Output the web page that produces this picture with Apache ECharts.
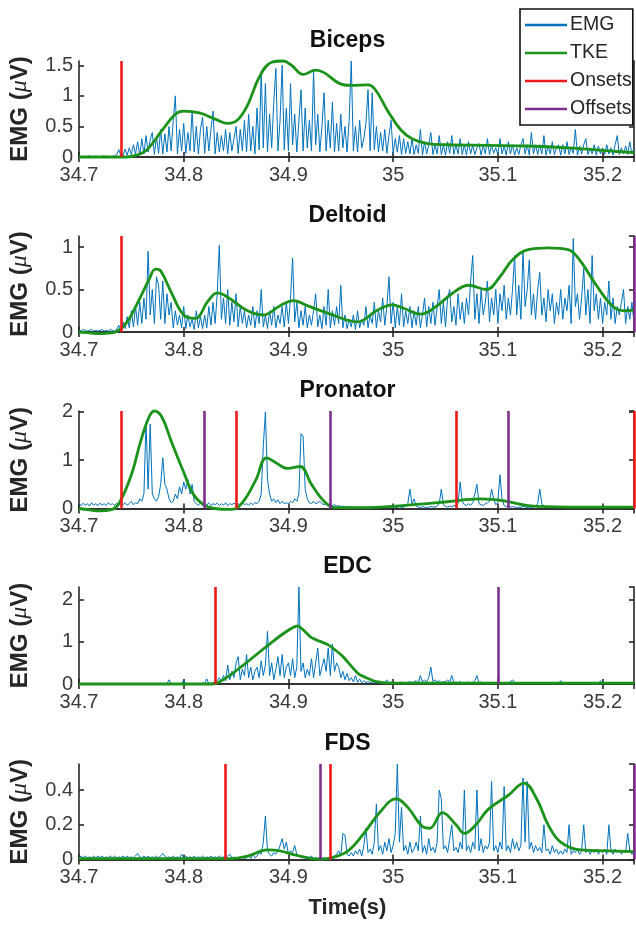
<!DOCTYPE html>
<html>
<head>
<meta charset="utf-8">
<script src="https://cdn.jsdelivr.net/npm/echarts@6/dist/echarts.min.js"></script>
<style>html,body{margin:0;padding:0;background:#fff}#c{width:636px;height:929px}</style>
</head>
<body>
<div id="c"></div>
<script>
// ---- sampling of the EMG traces ----
const T0 = 34.7, DT = 0.002;
const X_MIN = 34.7, X_MAX = 35.23;
const xTickStep = 0.1;

const muscles = ['Biceps', 'Deltoid', 'Pronator', 'EDC', 'FDS'];
const yMax = [1.57, 1.13, 2.02, 2.3, 0.55];
const yStep = [0.5, 0.5, 1, 1, 0.2];

// ---- EMG (rectified) samples, one every DT seconds from T0 ----
const emgBiceps = [
0.01,0,0.01,0,0.01,0.02,0,0.01,0,0.01,
0,0.01,0.02,0,0.01,0,0.01,0.02,0.04,0.12,
0.02,0.01,0.13,0.03,0.15,0.04,0.2,0.05,0.25,0.03,
0.3,0.05,0.35,0.08,0.28,0.4,0.04,0.33,0.06,0.45,
0.05,0.38,0.08,0.5,0.1,0.6,1.0,0.05,0.45,0.1,
0.55,0.06,0.4,0.1,0.75,0.08,0.5,0.05,0.45,0.65,
0.06,0.5,0.1,0.45,0.75,0.05,0.4,0.08,0.35,0.1,
0.45,0.05,0.4,0.1,0.3,0.5,0.06,0.45,0.1,0.6,
0.08,0.7,0.1,0.5,0.05,0.8,0.12,1.4,0.15,1.2,
0.08,0.7,0.15,0.9,1.45,0.1,0.6,1.5,0.12,0.8,
0.1,1.2,0.2,0.7,0.08,0.6,1.1,0.1,0.8,0.15,
0.6,0.1,1.4,0.2,0.7,0.08,0.5,1.05,0.1,0.6,
0.15,0.9,0.08,0.55,0.1,0.7,0.15,0.5,0.08,0.6,
1.57,0.1,0.5,0.08,0.6,0.15,0.3,0.55,1.1,0.1,
1.05,0.12,0.5,0.08,0.4,0.1,0.45,0.06,0.35,0.6,
0.05,0.3,0.08,0.35,0.04,0.3,0.06,0.25,0.05,0.3,
0.04,0.2,0.06,0.45,0.03,0.25,0.05,0.2,0.4,0.04,
0.2,0.05,0.35,0.04,0.2,0.03,0.25,0.06,0.35,0.04,
0.2,0.05,0.3,0.04,0.2,0.03,0.25,0.05,0.2,0.04,
0.15,0.22,0.03,0.2,0.05,0.3,0.04,0.2,0.06,0.15,
0.04,0.3,0.05,0.18,0.03,0.25,0.05,0.2,0.03,0.15,
0.04,0.2,0.3,0.05,0.2,0.03,0.4,0.05,0.2,0.04,
0.2,0.05,0.35,0.03,0.18,0.05,0.25,0.04,0.15,0.2,
0.03,0.2,0.05,0.25,0.04,0.15,0.06,0.45,0.03,0.18,
0.05,0.2,0.3,0.04,0.15,0.05,0.2,0.03,0.18,0.05,
0.15,0.04,0.2,0.05,0.15,0.03,0.2,0.35,0.04,0.15,
0.05,0.18,0.04,0.25,0.05,0.15];

const emgDeltoid = [
0.02,0.01,0.03,0.02,0.01,0.02,0.03,0.01,0.02,0.01,
0.02,0.03,0.01,0.02,0.01,0.03,0.02,0.01,0.03,0.08,
0.02,0.12,0.04,0.18,0.05,0.25,0.06,0.3,0.08,0.35,
0.1,0.4,0.15,0.95,0.2,0.5,0.1,0.65,0.55,0.15,
0.6,0.1,0.45,0.2,0.35,0.05,0.25,0.08,0.2,0.05,
0.3,0.04,0.2,0.06,0.15,0.03,0.25,0.05,0.18,0.04,
0.2,0.05,0.3,0.08,0.35,0.1,0.45,1.02,0.15,0.4,
0.1,0.5,0.08,0.35,0.12,0.45,0.06,0.3,0.1,0.25,
0.05,0.2,0.08,0.3,0.05,0.25,0.1,0.5,0.06,0.2,
0.04,0.25,0.08,0.3,0.05,0.2,0.1,0.3,0.06,0.35,
0.1,0.4,0.87,0.12,0.35,0.05,0.25,0.08,0.3,0.05,
0.2,0.08,0.25,0.45,0.06,0.2,0.04,0.3,0.08,0.5,
0.05,0.25,0.08,0.3,0.1,0.55,0.05,0.2,0.04,0.15,
0.06,0.2,0.03,0.25,0.05,0.15,0.08,0.3,0.05,0.2,
0.1,0.35,0.05,0.25,0.12,0.4,0.08,0.3,0.65,0.1,
0.35,0.05,0.3,0.08,0.45,0.06,0.25,0.1,0.3,0.05,
0.25,0.08,0.3,0.05,0.2,0.4,0.06,0.3,0.1,0.35,
0.08,0.3,0.5,0.1,0.35,0.06,0.4,0.5,0.12,0.3,
0.08,0.45,0.15,0.35,0.1,0.4,0.2,0.6,0.9,0.15,
0.45,0.1,0.5,0.2,0.35,0.6,0.12,0.4,0.2,0.5,
0.1,0.45,0.25,0.55,0.15,0.4,0.2,0.5,0.9,0.2,
0.55,0.15,0.95,0.3,0.5,0.85,0.2,0.45,0.15,0.5,
0.7,0.2,0.4,0.12,0.5,0.25,0.45,0.1,0.35,0.2,
0.5,0.15,0.4,0.25,0.55,0.1,1.1,0.3,0.45,0.15,
0.4,0.75,0.2,0.5,0.1,0.9,0.25,0.45,0.15,0.4,
0.1,0.35,0.2,0.6,0.15,0.4,0.1,0.3,0.2,0.35,
0.5,0.1,0.3,0.15,0.35,0.1];

const emgPronator = [
0.1,0.06,0.11,0.07,0.1,0.05,0.12,0.07,0.1,0.06,
0.11,0.07,0.1,0.06,0.12,0.08,0.1,0.06,0.11,0.07,
0.1,0.08,0.12,0.07,0.1,0.15,0.08,0.12,0.1,0.2,
0.15,0.3,1.8,0.4,1.75,0.3,0.2,0.15,0.25,0.5,
1.05,0.5,0.4,0.2,0.12,0.15,0.3,0.2,0.45,0.3,
0.55,0.4,0.6,0.3,0.5,0.15,0.1,0.07,0.11,0.06,
0.1,0.07,0.12,0.06,0.1,0.08,0.11,0.06,0.1,0.07,
0.12,0.06,0.1,0.08,0.11,0.07,0.1,0.06,0.12,0.08,
0.1,0.07,0.11,0.08,0.12,0.1,0.15,0.3,1.3,2.0,
0.6,0.3,0.15,0.2,0.12,0.18,0.1,0.15,0.1,0.12,
0.1,0.15,0.12,0.2,0.15,0.3,1.55,1.5,0.4,0.2,
0.12,0.1,0.15,0.1,0.12,0.15,0.1,0.08,0.11,0.07,
0.09,0.06,0.08,0.05,0.06,0.04,0.05,0.03,0.04,0.03,
0.03,0.02,0.03,0.02,0.04,0.02,0.03,0.02,0.03,0.02,
0.03,0.02,0.03,0.04,0.02,0.03,0.02,0.03,0.02,0.03,
0.02,0.03,0.02,0.04,0.02,0.03,0.05,0.1,0.4,0.1,
0.2,0.05,0.03,0.02,0.04,0.03,0.02,0.03,0.04,0.03,
0.03,0.05,0.1,0.4,0.08,0.04,0.03,0.05,0.04,0.06,
0.05,0.1,0.55,0.15,0.08,0.06,0.1,0.07,0.12,0.3,
0.5,0.1,0.08,0.06,0.1,0.12,0.15,0.4,0.2,0.08,
0.12,0.7,0.2,0.06,0.04,0.05,0.03,0.04,0.03,0.02,
0.03,0.02,0.04,0.03,0.02,0.03,0.02,0.03,0.05,0.1,
0.4,0.1,0.03,0.02,0.03,0.02,0.03,0.02,0.04,0.03,
0.02,0.03,0.02,0.03,0.02,0.04,0.02,0.03,0.02,0.03,
0.02,0.03,0.02,0.03,0.02,0.03,0.02,0.04,0.02,0.03,
0.02,0.03,0.02,0.03,0.02,0.03,0.02,0.03,0.02,0.03,
0.02,0.03,0.02,0.03,0.02,0.03];

const emgEDC = [
0.01,0,0.01,0,0.01,0,0.01,0,0.01,0,
0.01,0,0.01,0,0.01,0,0.01,0,0.01,0,
0.01,0,0.01,0,0.01,0,0.01,0,0.01,0,
0.01,0,0.01,0,0.01,0,0.01,0,0.01,0,
0.01,0,0.01,0.1,0.01,0,0.01,0,0.01,0,
0.1,0,0.01,0,0.01,0,0.01,0,0.01,0.02,
0.01,0.12,0.01,0.02,0.03,0.05,0.08,0.15,0.05,0.2,
0.08,0.45,0.1,0.3,0.15,0.5,0.65,0.1,0.35,0.2,
0.7,0.15,0.4,0.1,0.3,0.4,0.15,0.55,0.2,0.45,
1.25,0.2,0.5,0.1,0.35,0.65,0.2,0.7,0.15,0.4,
0.5,0.2,0.6,0.15,0.4,2.3,0.3,0.5,0.15,0.35,
0.2,0.6,0.15,0.5,0.85,0.2,0.4,0.6,0.3,0.85,
0.2,0.95,0.3,0.5,0.4,0.15,0.3,0.1,0.25,0.08,
0.15,0.05,0.2,0.04,0.12,0.03,0.08,0.02,0.06,0.03,
0.05,0.02,0.04,0.03,0.06,0.02,0.04,0.1,0.03,0.05,
0.02,0.04,0.02,0.03,0.05,0.02,0.04,0.03,0.06,0.02,
0.05,0.08,0.03,0.2,0.05,0.1,0.04,0.15,0.4,0.06,
0.1,0.04,0.08,0.03,0.06,0.05,0.1,0.04,0.2,0.03,
0.05,0.03,0.06,0.02,0.04,0.03,0.05,0.02,0.04,0.08,
0.2,0.03,0.05,0.02,0.04,0.03,0.02,0.04,0.02,0.03,
0.02,0.04,0.02,0.03,0.02,0.03,0.05,0.1,0.02,0.03,
0.01,0.02,0.01,0.02,0.01,0.02,0.01,0.02,0.01,0.02,
0.01,0.02,0.01,0.02,0.01,0.02,0.01,0.02,0.01,0.02,
0.08,0.02,0.01,0.02,0.01,0.02,0.01,0.02,0.01,0.02,
0.01,0.02,0.01,0.02,0.01,0.02,0.01,0.02,0.01,0.08,
0.01,0.02,0.01,0.02,0.01,0.02,0.01,0.02,0.01,0.02,
0.01,0.02,0.01,0.02,0.01,0.02];

const emgFDS = [
0.01,0.02,0.01,0.02,0.01,0.015,0.01,0.02,0.01,0.02,
0.01,0.02,0.01,0.015,0.01,0.02,0.01,0.02,0.01,0.015,
0.01,0.02,0.01,0.02,0.01,0.015,0.01,0.02,0.035,0.015,
0.01,0.02,0.01,0.02,0.01,0.015,0.01,0.02,0.01,0.02,
0.035,0.02,0.01,0.015,0.01,0.02,0.01,0.015,0.01,0.03,
0.01,0.02,0.01,0.015,0.01,0.02,0.01,0.015,0.01,0.02,
0.01,0.015,0.01,0.02,0.01,0.015,0.01,0.02,0.01,0.015,
0.01,0.02,0.03,0.01,0.015,0.005,0.01,0.005,0.015,0.005,
0.01,0.02,0.005,0.03,0.01,0.02,0.04,0.03,0.1,0.25,
0.05,0.03,0.02,0.04,0.03,0.05,0.08,0.12,0.06,0.1,
0.03,0.05,0.04,0.08,0.03,0.02,0.01,0.02,0.01,0.015,
0.01,0.02,0.005,0.01,0.005,0.01,0.005,0.01,0.005,0.01,
0.02,0.01,0.02,0.03,0.05,0.02,0.15,0.14,0.03,0.02,
0.04,0.02,0.05,0.03,0.06,0.02,0.08,0.18,0.04,0.06,
0.03,0.1,0.32,0.05,0.08,0.03,0.1,0.05,0.12,0.04,
0.08,0.15,0.55,0.1,0.3,0.05,0.08,0.03,0.1,0.04,
0.06,0.1,0.05,0.25,0.04,0.08,0.03,0.12,0.05,0.07,
0.04,0.1,0.4,0.35,0.06,0.08,0.04,0.12,0.2,0.05,
0.07,0.04,0.1,0.06,0.4,0.05,0.08,0.04,0.1,0.06,
0.4,0.05,0.12,0.04,0.08,0.06,0.1,0.45,0.05,0.08,
0.04,0.1,0.06,0.42,0.05,0.08,0.04,0.12,0.06,0.1,
0.05,0.08,0.47,0.1,0.45,0.06,0.1,0.04,0.08,0.05,
0.07,0.04,0.2,0.05,0.06,0.03,0.08,0.04,0.06,0.03,
0.05,0.03,0.06,0.04,0.2,0.03,0.05,0.04,0.06,0.03,
0.05,0.2,0.04,0.06,0.03,0.05,0.04,0.06,0.03,0.05,
0.04,0.06,0.03,0.2,0.05,0.03,0.06,0.04,0.05,0.03,
0.05,0.04,0.15,0.05,0.03,0.04];

// ---- TKE envelopes (time, value) ----
const tkeBicepsT = [34.7,34.745,34.755,34.765,34.78,34.792,34.80,34.815,34.83,34.842,34.851,34.861,34.872,34.884,34.895,34.903,34.914,34.926,34.934,34.949,34.96,34.976,34.983,34.995,35.007,35.018,35.033,35.052,35.09,35.129,35.167,35.206,35.23];
const tkeBicepsV = [0,0,0.03,0.12,0.45,0.7,0.75,0.72,0.62,0.55,0.6,0.85,1.3,1.55,1.57,1.5,1.35,1.42,1.38,1.2,1.17,1.18,1.1,0.75,0.45,0.3,0.22,0.2,0.19,0.18,0.15,0.1,0.07];

const tkeDeltoidT = [34.7,34.71,34.72,34.73,34.735,34.746,34.757,34.767,34.773,34.778,34.788,34.80,34.811,34.823,34.832,34.842,34.861,34.876,34.892,34.905,34.918,34.938,34.966,34.984,34.999,35.01,35.026,35.041,35.056,35.072,35.089,35.102,35.114,35.129,35.148,35.167,35.178,35.194,35.21,35.221,35.23];
const tkeDeltoidV = [0,-0.01,-0.02,-0.01,0,0.12,0.37,0.62,0.74,0.72,0.47,0.2,0.16,0.36,0.46,0.41,0.25,0.2,0.31,0.37,0.31,0.22,0.12,0.25,0.32,0.28,0.21,0.3,0.45,0.55,0.5,0.65,0.85,0.97,0.99,0.97,0.85,0.55,0.3,0.25,0.26];

const tkePronatorT = [34.7,34.71,34.72,34.73,34.738,34.75,34.759,34.767,34.772,34.779,34.788,34.80,34.809,34.819,34.83,34.846,34.857,34.869,34.879,34.888,34.899,34.911,34.922,34.934,34.945,34.976,35.014,35.052,35.083,35.106,35.129,35.167,35.23];
const tkePronatorV = [0,-0.03,-0.05,-0.03,0.1,0.7,1.4,1.9,2.02,1.9,1.4,0.75,0.3,0.08,0,-0.02,0.15,0.6,1.05,0.95,0.83,0.87,0.5,0.15,0.02,0.02,0.07,0.14,0.2,0.16,0.06,0.03,0.03];

const tkeEDCT = [34.7,34.828,34.909,34.922,34.937,34.945,34.952,34.967,34.983,34.998,35.23];
const tkeEDCV = [0,0,1.38,1.1,0.94,0.8,0.65,0.24,0.06,0.02,0.02];

const tkeFDST = [34.7,34.845,34.861,34.88,34.892,34.907,34.928,34.941,34.957,34.972,34.987,35.003,35.014,35.028,35.035,35.047,35.06,35.068,35.079,35.091,35.11,35.125,35.137,35.148,35.16,35.179,35.206,35.23];
const tkeFDSV = [0.005,0.005,0.02,0.055,0.05,0.025,0.003,0.01,0.05,0.15,0.27,0.35,0.3,0.19,0.18,0.27,0.2,0.15,0.2,0.29,0.37,0.44,0.35,0.2,0.1,0.055,0.05,0.045];

// ---- onsets / offsets (s) ----
const onsetsBiceps = [34.744];
const onsetsDeltoid = [34.7356];
const onsetsPronator = [34.738, 34.853, 35.058, 35.228];
const onsetsEDC = [34.827];
const onsetsFDS = [34.844, 34.936];
const offsetsBiceps = [];
const offsetsDeltoid = [35.228];
const offsetsPronator = [34.817, 34.939, 35.11];
const offsetsEDC = [35.102];
const offsetsFDS = [34.928, 35.228];

const emg = [emgBiceps, emgDeltoid, emgPronator, emgEDC, emgFDS];
const tkeT = [tkeBicepsT, tkeDeltoidT, tkePronatorT, tkeEDCT, tkeFDST];
const tkeV = [tkeBicepsV, tkeDeltoidV, tkePronatorV, tkeEDCV, tkeFDSV];
const onsets = [onsetsBiceps, onsetsDeltoid, onsetsPronator, onsetsEDC, onsetsFDS];
const offsets = [offsetsBiceps, offsetsDeltoid, offsetsPronator, offsetsEDC, offsetsFDS];

// ---- styling / layout ----
const C_EMG = '#0072BD', C_TKE = '#1b931b', C_ON = '#f01818', C_OFF = '#7E2F8E';
const AX = '#262626';
const FONT = 'Liberation Sans, Arial, Helvetica, sans-serif';
const gridLeft = 73, gridWidth = 561;
const gridTop = [61, 236, 411, 587, 764];
const gridH = [96, 96, 97.5, 97, 95.5];

const grids = [], xAxes = [], yAxes = [], series = [], graphics = [];
const axLine = {show: true, lineStyle: {color: AX, width: 1.6}};
const axTick = {show: true, inside: true, length: 5, lineStyle: {color: AX, width: 1.6}};
const fmtX = v => String(Math.round(v * 10) / 10);
const fmtY = v => String(Math.round(v * 100) / 100);

for (let g = 0; g < 5; g++) {
  grids.push({left: gridLeft, top: gridTop[g], width: gridWidth, height: gridH[g], containLabel: false});
  const xBase = {type: 'value', gridIndex: g, min: X_MIN, max: X_MAX, interval: xTickStep,
    axisLine: axLine, axisTick: axTick, splitLine: {show: false}};
  xAxes.push(Object.assign({}, xBase, {position: 'bottom',
    axisLabel: {show: true, formatter: fmtX, fontSize: 20, color: '#3a3a3a', fontFamily: FONT, margin: 8, showMaxLabel: false}}));
  xAxes.push(Object.assign({}, xBase, {position: 'top', axisLabel: {show: false}}));
  const yBase = {type: 'value', gridIndex: g, min: 0, max: yMax[g], interval: yStep[g],
    axisLine: axLine, axisTick: axTick, splitLine: {show: false}};
  yAxes.push(Object.assign({}, yBase, {position: 'left',
    axisLabel: {show: true, formatter: fmtY, fontSize: 20, color: '#3a3a3a', fontFamily: FONT, margin: 6, showMaxLabel: false},
    name: '{b|EMG (}{i|μ}{b|V)}', nameLocation: 'middle', nameRotate: 90, nameGap: 47,
    nameTextStyle: {rich: {
      b: {fontSize: 24, fontWeight: 'bold', color: '#262626', fontFamily: FONT},
      i: {fontSize: 24, fontStyle: 'italic', color: '#262626', fontFamily: 'Liberation Serif, serif'}
    }}}));
  yAxes.push(Object.assign({}, yBase, {position: 'right', axisLabel: {show: false}}));

  series.push({type: 'line', name: 'EMG', xAxisIndex: 2 * g, yAxisIndex: 2 * g,
    data: emg[g].map((v, i) => [T0 + i * DT, v]), symbol: 'none', showSymbol: false,
    color: C_EMG, lineStyle: {width: 1, color: C_EMG}, z: 2});
  series.push({type: 'line', name: 'TKE', xAxisIndex: 2 * g, yAxisIndex: 2 * g,
    data: tkeT[g].map((t, i) => [t, tkeV[g][i]]), symbol: 'none', showSymbol: false,
    smooth: g === 3 ? 0.15 : 0.4, clip: false,
    color: C_TKE, lineStyle: {width: 2.8, color: C_TKE}, z: 3});
  series.push({type: 'line', name: 'Onsets', xAxisIndex: 2 * g, yAxisIndex: 2 * g, data: [],
    color: C_ON, z: 4,
    markLine: {symbol: ['none', 'none'], silent: true, label: {show: false},
      lineStyle: {color: C_ON, width: 2.6, type: 'solid'},
      emphasis: {disabled: true},
      data: onsets[g].map(t => ({xAxis: t}))}});
  series.push({type: 'line', name: 'Offsets', xAxisIndex: 2 * g, yAxisIndex: 2 * g, data: [],
    color: C_OFF, z: 4,
    markLine: {symbol: ['none', 'none'], silent: true, label: {show: false},
      lineStyle: {color: C_OFF, width: 2.6, type: 'solid'},
      emphasis: {disabled: true},
      data: offsets[g].map(t => ({xAxis: t}))}});

  graphics.push({type: 'text', x: gridLeft + gridWidth / 2 - 6, y: gridTop[g] - 20,
    style: {text: muscles[g], fontSize: 23, fontWeight: 'bold', fontFamily: FONT, fill: '#111',
      align: 'center', verticalAlign: 'middle'}});
}
graphics.push({type: 'text', x: gridLeft + gridWidth / 2 - 6, y: 908,
  style: {text: 'Time(s)', fontSize: 22, fontWeight: 'bold', fontFamily: FONT, fill: '#262626',
    align: 'center', verticalAlign: 'middle'}});

const chart = echarts.init(document.getElementById('c'), null, {renderer: 'canvas'});
chart.setOption({
  animation: false,
  backgroundColor: '#fff',
  textStyle: {fontFamily: FONT},
  grid: grids,
  xAxis: xAxes,
  yAxis: yAxes,
  legend: {
    data: ['EMG', 'TKE', 'Onsets', 'Offsets'],
    orient: 'vertical', left: 520, top: 9,
    icon: 'rect', itemWidth: 42, itemHeight: 2.5, itemGap: 8,
    padding: [6, 1, 6, 5],
    backgroundColor: '#fff', borderColor: '#111', borderWidth: 1.6,
    textStyle: {fontSize: 19.5, lineHeight: 19, color: '#262626', fontFamily: FONT, padding: [0, 0, 0, -2]},
    selectedMode: false, z: 10
  },
  graphic: graphics,
  series: series
});
</script>
</body>
</html>
